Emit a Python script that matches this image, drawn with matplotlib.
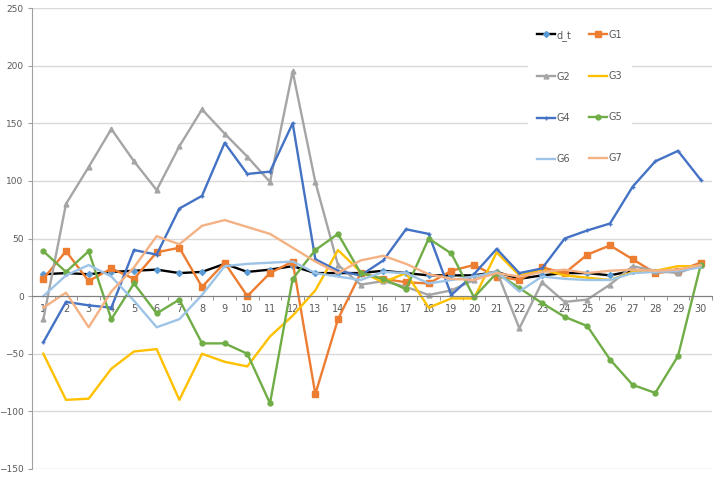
import matplotlib
matplotlib.use("Agg")
import matplotlib.pyplot as plt
from matplotlib.ticker import MultipleLocator, FixedLocator

# ---------------- data ----------------
x = list(range(1, 31))
d_t = [19, 20, 19, 21, 22, 23, 20, 21, 28, 21, 23, 26, 20, 20, 20, 22, 20, 18, 18, 18,
       21, 15, 18, 20, 20, 18, 22, 21, 22, 27]
G1 = [15, 39, 13, 24, 15, 38, 42, 8, 29, 0, 20, 30, -85, -20, 20, 15, 12, 11, 22, 27,
      17, 14, 25, 20, 36, 44, 32, 20, 22, 29]
G2 = [-20, 80, 112, 145, 117, 92, 130, 162, 141, 121, 99, 195, 99, 27, 10, 13, 8, 1, 5, 14,
      22, -28, 12, -5, -3, 10, 26, 22, 20, 27]
G3 = [-50, -90, -89, -63, -48, -46, -90, -50, -57, -61, -35, -17, 5, 40, 21, 12, 20, -10, -2, -2,
      38, 18, 23, 18, 16, 14, 21, 22, 26, 26]
G4 = [-40, -5, -8, -10, 40, 36, 76, 87, 133, 106, 108, 150, 32, 22, 18, 31, 58, 54, 1, 19,
      41, 20, 24, 50, 57, 63, 95, 117, 126, 101]
G5 = [39, 21, 39, -20, 11, -15, -3, -41, -41, -50, -93, 15, 40, 54, 20, 15, 6, 50, 37, -1,
      20, 7, -6, -18, -26, -55, -77, -84, -52, 27]
G6 = [0, 18, 27, 17, -4, -27, -20, 1, 26, 28, 29, 30, 20, 17, 14, 21, 20, 11, 14, 17,
      21, 4, 17, 15, 14, 14, 20, 21, 22, 25]
G7 = [-10, 3, -27, 4, 25, 52, 45, 61, 66, 60, 54, 42, 30, 20, 31, 35, 28, 19, 15, 14,
      20, 17, 21, 23, 20, 22, 23, 22, 23, 27]
y_ticks = [-150, -100, -50, 0, 50, 100, 150, 200, 250]

series = [
    ("d_t", d_t, dict(color="black", marker="D", ms=3, mfc="#5B9BD5", mec="#5B9BD5")),
    ("G1", G1, dict(color="#ED7D31", marker="s", ms=4)),
    ("G2", G2, dict(color="#A5A5A5", marker="^", ms=3.5)),
    ("G3", G3, dict(color="#FFC000")),
    ("G4", G4, dict(color="#4472C4", marker="+", ms=3)),
    ("G5", G5, dict(color="#70AD47", marker="o", ms=3.5)),
    ("G6", G6, dict(color="#9DC3E6")),
    ("G7", G7, dict(color="#F4B183")),
]

fig = plt.figure(figsize=(7.25, 4.83), dpi=100)
ax = fig.add_axes([32 / 725, 1 - 469 / 483, 680 / 725, 461 / 483])

handles = {}
for name, vals, st in series:
    handles[name], = ax.plot(x, vals, lw=1.7, label=name, **st)

ax.set_xlim(0.5, 30.5)
ax.set_ylim(-150, 250)
ax.yaxis.set_major_locator(FixedLocator(y_ticks))
ax.grid(axis="y", color="#D9D9D9", lw=1)
ax.set_axisbelow(True)

for s in ("top", "right"):
    ax.spines[s].set_visible(False)
ax.spines["left"].set_color("#A0A0A0")
ax.spines["bottom"].set_position(("data", 0))
ax.spines["bottom"].set_color("#808080")

ax.xaxis.set_major_locator(MultipleLocator(1))
ax.xaxis.set_minor_locator(MultipleLocator(1, offset=0.5))
ax.tick_params(axis="x", which="major", length=0, pad=6, labelsize=7, labelcolor="#595959")
ax.tick_params(axis="x", which="minor", length=3, color="#808080", direction="out")
ax.tick_params(axis="y", length=3, color="#A0A0A0", labelsize=6.5, labelcolor="#595959", pad=3)

# legend fills column-wise, so order to read row-wise: d_t G1 / G2 G3 / G4 G5 / G6 G7
order = ["d_t", "G2", "G4", "G6", "G1", "G3", "G5", "G7"]
leg = ax.legend([handles[n] for n in order], order, ncol=2, loc="center",
                bbox_to_anchor=(0.805, 0.807), fontsize=7,
                frameon=True, framealpha=1, edgecolor="white", labelspacing=3.2,
                handlelength=1.9, columnspacing=1.8, handletextpad=0.1, borderpad=0.9)
for t in leg.get_texts():
    t.set_color("#595959")

fig.savefig("out.png", dpi=100)
